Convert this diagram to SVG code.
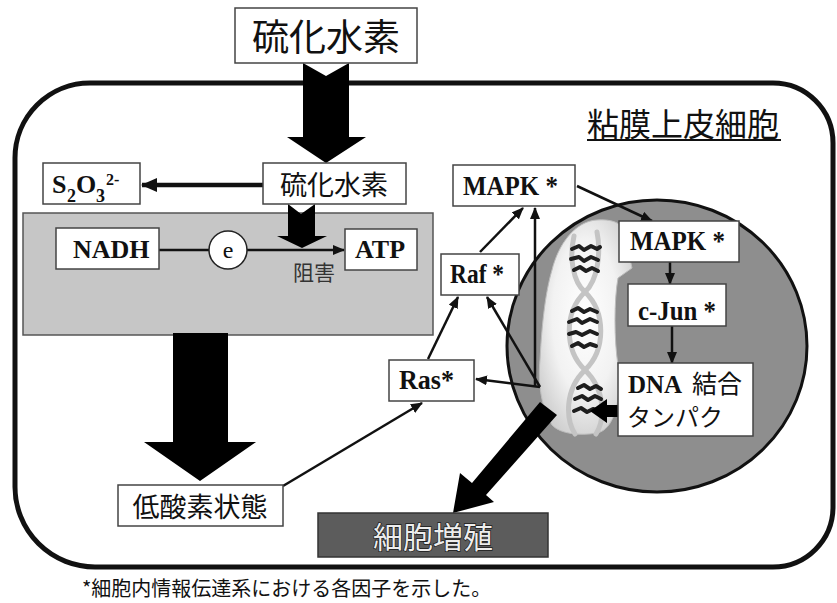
<svg xmlns="http://www.w3.org/2000/svg" width="837" height="603" viewBox="0 0 837 603">
  <defs>
    <style>
      .box { fill: #ffffff; stroke: #444444; stroke-width: 1.5; }
      .jp { font-family: "Noto Sans CJK JP", "Noto Sans", sans-serif; fill: #111111; }
      .lat { font-family: "Liberation Serif", "Times New Roman", serif; font-weight: bold; fill: #111111; }
      .conn { stroke: #111111; stroke-width: 2.5; fill: none; }
      .thick { stroke: #111111; stroke-width: 4.5; fill: none; }
      .block { fill: #000000; }
      .strand { fill: none; stroke: #c4c4c4; stroke-width: 5; stroke-linecap: round; }
      .pair { fill: none; stroke: #1e1e1e; stroke-width: 4; stroke-linecap: round; stroke-linejoin: round; }
      .inhibit { fill: #333333; }
      .prolif { fill: #ededed; stroke: #1a1a1a; stroke-width: 1.4; paint-order: stroke; }
    </style>
    <marker id="head" markerUnits="userSpaceOnUse" viewBox="0 0 12 10" refX="11" refY="5" markerWidth="12" markerHeight="10" orient="auto">
      <path d="M0,0 L12,5 L0,10 z" fill="#111111"/>
    </marker>
    <marker id="headBig" markerUnits="userSpaceOnUse" viewBox="0 0 16 14" refX="15" refY="7" markerWidth="16" markerHeight="14" orient="auto">
      <path d="M0,0 L16,7 L0,14 z" fill="#111111"/>
    </marker>
    <radialGradient id="chromGlow" cx="0.5" cy="0.45" r="0.6">
      <stop offset="0" stop-color="#ffffff"/>
      <stop offset="0.6" stop-color="#f2f2f2"/>
      <stop offset="1" stop-color="#cfcfcf"/>
    </radialGradient>
  </defs>

  <!-- cell outline -->
  <g id="cell">
    <path d="M90,83 L773,83 A60,60 0 0 1 833,143 L833,507 A60,60 0 0 1 773,567 L95,567 A80,80 0 0 1 15,487 L15,158 A75,75 0 0 1 90,83 Z" fill="none" stroke="#111111" stroke-width="5"/>
    <text class="jp" x="587" y="136" font-size="32">粘膜上皮細胞</text>
    <line x1="587" y1="140" x2="781" y2="140" stroke="#111111" stroke-width="2"/>
  </g>

  <!-- mitochondrial region -->
  <g id="mito">
    <rect x="23" y="213" width="410" height="122" fill="#c6c6c6" stroke="#555555" stroke-width="1.5"/>
  </g>

  <!-- nucleus -->
  <g id="nucleus">
    <ellipse cx="657" cy="346" rx="150" ry="146" fill="#8e8e8e" stroke="#111111" stroke-width="3"/>
    <path d="M597,220 C610,219 622,222 624,232 L632,268 L618,278 C614,300 614,340 618,365 C622,400 614,430 597,433 C580,436 560,434 552,425 C540,405 538,380 540,360 C542,320 546,290 552,270 C558,245 575,221 597,220 Z" fill="url(#chromGlow)" stroke="#bdbdbd" stroke-width="1"/>
    <!-- double helix -->
    <path class="strand" d="M597,232 C601,252 598,280 585,292 C564,312 564,350 585,370 C606,390 605,420 596,434"/>
    <path class="strand" d="M574,236 C569,258 573,282 585,292 C606,312 606,350 585,370 C564,390 566,420 575,434"/>
    <path class="pair" d="M572,249 l7,-3 l5,4 l7,-4 l6,3 l3,-2"/>
    <path class="pair" d="M571,259 l8,-2 l5,4 l7,-4 l7,3"/>
    <path class="pair" d="M574,270 l6,-3 l6,4 l6,-3 l6,3"/>
    <path class="pair" d="M572,311 l6,-3 l6,4 l6,-3 l7,3"/>
    <path class="pair" d="M569,322 l8,-3 l5,4 l8,-4 l7,3"/>
    <path class="pair" d="M569,334 l7,-2 l6,3 l8,-4 l7,3"/>
    <path class="pair" d="M572,346 l6,-3 l6,4 l6,-3 l6,2"/>
    <path class="pair" d="M578,388 l6,-3 l6,4 l6,-3 l5,3"/>
    <path class="pair" d="M575,399 l7,-3 l6,4 l7,-4 l6,3"/>
    <path class="pair" d="M574,411 l7,-3 l6,4 l6,-3 l7,2"/>
  </g>

  <!-- connectors -->
  <g id="connectors">
    <!-- broad arrows -->
    <polygon class="block" points="303,63 326,76 349,63 349,137 366,137 326,163 287,137 303,137"/>
    <polygon class="block" points="288,204 301,214 315,204 315,236 327,236 302,248 277,236 288,236"/>
    <polygon class="block" points="173,333 228,333 228,442 256,442 200,481 144,442 173,442"/>
    <polygon class="block" points="540,402 557,415 486,495 494,502 453,513 460,473 472,483"/>
    <polygon class="block" points="621,405 607,405 607,399 590,411 607,423 607,417 621,417"/>
    <!-- line arrows -->
    <line class="thick" x1="263" y1="185" x2="142" y2="185" marker-end="url(#headBig)"/>
    <line class="conn" x1="159" y1="250" x2="209" y2="250"/>
    <line class="conn" x1="247" y1="250" x2="344" y2="250" marker-end="url(#head)"/>
    <line class="conn" x1="283" y1="486" x2="422" y2="403" marker-end="url(#head)"/>
    <line class="conn" x1="428" y1="359" x2="458" y2="297" marker-end="url(#head)"/>
    <line class="conn" x1="540" y1="387" x2="476" y2="379" marker-end="url(#head)"/>
    <line class="conn" x1="540" y1="387" x2="487" y2="297" marker-end="url(#head)"/>
    <line class="conn" x1="535" y1="387" x2="535" y2="208" marker-end="url(#head)"/>
    <line class="conn" x1="480" y1="252" x2="523" y2="208" marker-end="url(#head)"/>
    <line class="conn" x1="577" y1="186" x2="652" y2="221" marker-end="url(#head)"/>
    <line class="conn" x1="670" y1="262" x2="670" y2="284" marker-end="url(#head)"/>
    <line class="conn" x1="672" y1="326" x2="672" y2="363" marker-end="url(#head)"/>
  </g>

  <!-- nodes -->
  <g id="h2s-outer">
    <rect class="box" x="235" y="8" width="182" height="55"/>
    <text class="jp" x="326" y="51" font-size="37" text-anchor="middle">硫化水素</text>
  </g>

  <g id="h2s-inner">
    <rect class="box" x="263" y="163" width="143" height="41"/>
    <text class="jp" x="334" y="195" font-size="27" text-anchor="middle">硫化水素</text>
  </g>

  <g id="thiosulfate">
    <rect class="box" x="43" y="163" width="97" height="41"/>
    <text class="lat" font-size="26"><tspan x="52" y="193">S</tspan><tspan x="67" y="202" font-size="18">2</tspan><tspan x="76" y="193">O</tspan><tspan x="96" y="202" font-size="18">3</tspan><tspan x="106" y="185" font-size="16">2-</tspan></text>
  </g>

  <g id="nadh">
    <rect class="box" x="56" y="228" width="103" height="41"/>
    <text class="lat" x="73" y="258" font-size="26">NADH</text>
  </g>

  <g id="electron">
    <circle cx="228" cy="250" r="19" fill="#ffffff" stroke="#222222" stroke-width="1.5"/>
    <text x="228" y="258" font-size="24" text-anchor="middle" font-family="Liberation Serif, serif" fill="#111111">e</text>
  </g>

  <g id="atp">
    <rect class="box" x="345" y="229" width="72" height="41"/>
    <text class="lat" x="355" y="258" font-size="26">ATP</text>
  </g>

  <g id="inhibit">
    <text class="jp inhibit" x="293" y="280" font-size="21">阻害</text>
  </g>

  <g id="mapk-cyto">
    <rect class="box" x="453" y="165" width="122" height="41"/>
    <text class="lat" x="463" y="195" font-size="28" textLength="95" lengthAdjust="spacingAndGlyphs">MAPK *</text>
  </g>

  <g id="raf">
    <rect class="box" x="441" y="254" width="78" height="41"/>
    <text class="lat" x="450" y="283" font-size="28" textLength="54" lengthAdjust="spacingAndGlyphs">Raf *</text>
  </g>

  <g id="ras">
    <rect class="box" x="389" y="360" width="85" height="41"/>
    <text class="lat" x="399" y="389" font-size="28" textLength="55" lengthAdjust="spacingAndGlyphs">Ras*</text>
  </g>

  <g id="mapk-nuc">
    <rect class="box" x="619" y="221" width="120" height="41"/>
    <text class="lat" x="630" y="250" font-size="28" textLength="95" lengthAdjust="spacingAndGlyphs">MAPK *</text>
  </g>

  <g id="cjun">
    <rect class="box" x="628" y="284" width="98" height="42"/>
    <text class="lat" x="638" y="320" font-size="28" textLength="78" lengthAdjust="spacingAndGlyphs">c-Jun *</text>
  </g>

  <g id="dna-binding">
    <rect class="box" x="618" y="363" width="135" height="73"/>
    <text class="lat" x="628" y="393" font-size="25">DNA</text>
    <text class="jp" x="692" y="393" font-size="25">結合</text>
    <text class="jp" x="627" y="426" font-size="24">タンパク</text>
  </g>

  <g id="hypoxia">
    <rect class="box" x="118" y="485" width="165" height="41"/>
    <text class="jp" x="200" y="517" font-size="27" text-anchor="middle">低酸素状態</text>
  </g>

  <g id="proliferation">
    <rect x="318" y="513" width="230" height="44" fill="#5c5c5c" stroke="#333333" stroke-width="1.5"/>
    <text class="jp prolif" x="433" y="548" font-size="30" text-anchor="middle">細胞増殖</text>
  </g>

  <g id="footnote">
    <text class="jp" x="82" y="596" font-size="20">*細胞内情報伝達系における各因子を示した。</text>
  </g>
</svg>
